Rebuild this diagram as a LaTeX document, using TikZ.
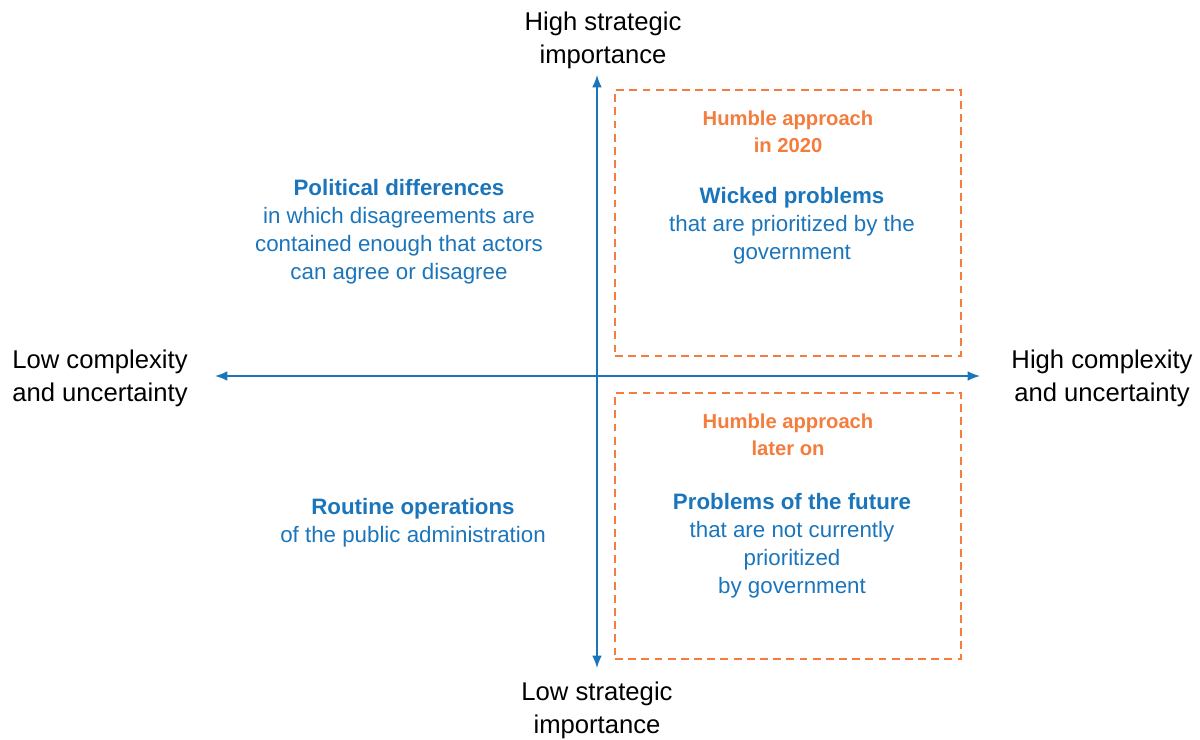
\documentclass[tikz,border=0pt]{standalone}
\usepackage{fontspec}
\setmainfont{Liberation Sans}
\usetikzlibrary{positioning,arrows.meta}
\definecolor{axisblue}{HTML}{1B75BB}
\definecolor{humbleorange}{HTML}{F47C3C}

\begin{document}
\begin{tikzpicture}
  [x=0.02cm,y=-0.02cm,
   axislabel/.style={align=center,font=\fontsize{14.6}{18.8}\selectfont},
   quadtext/.style={align=center,text=axisblue,font=\fontsize{12.7}{16}\selectfont},
   humble/.style={align=center,text=humbleorange,font=\bfseries\fontsize{11.5}{15.3}\selectfont},
   dashbox/.style={draw=humbleorange,line width=0.9pt,dash pattern=on 4.5pt off 3pt,
     minimum width=6.92cm,minimum height=5.32cm,inner sep=0pt},
   axis/.style={draw=axisblue,line width=0.8pt,
     {Latex[length=7pt,width=5.5pt]}-{Latex[length=7pt,width=5.5pt]}}]
  \useasboundingbox (0,0) rectangle (1200,740);

  % axis ends
  \coordinate (top) at (597,75);
  \coordinate (bottom) at (597,668);
  \coordinate (left) at (215,376);
  \coordinate (right) at (980,376);

  % axis labels
  \node[axislabel] (hightop) at (603,40) {High strategic\\importance};
  \node[axislabel] (lowbottom) at (597,710) {Low strategic\\importance};
  \node[axislabel] (lowleft) at (100,378) {Low complexity\\and uncertainty};
  \node[axislabel] (highright) at (1102,378) {High complexity\\and uncertainty};

  % humble boxes
  \node[dashbox] (box2020) at (788,223) {};
  \node[dashbox] (boxlater) at (788,526) {};

  % quadrants
  \node[quadtext] (political) at (399,232)
    {\textbf{Political differences}\\in which disagreements are\\contained enough that actors\\can agree or disagree};
  \node[quadtext] (routine) at (413,523)
    {\textbf{Routine operations}\\of the public administration};
  \node[humble] (humblenow) at (788,132) {Humble approach\\in 2020};
  \node[quadtext] (wicked) at (792,226)
    {\textbf{Wicked problems}\\that are prioritized by the\\government};
  \node[humble] (humblelater) at (788,435) {Humble approach\\later on};
  \node[quadtext] (future) at (792,546)
    {\textbf{Problems of the future}\\that are not currently\\prioritized\\by government};

  \foreach \from/\to in {left/right,bottom/top}
    \draw[axis] (\from) -- (\to);

\end{tikzpicture}
\end{document}
